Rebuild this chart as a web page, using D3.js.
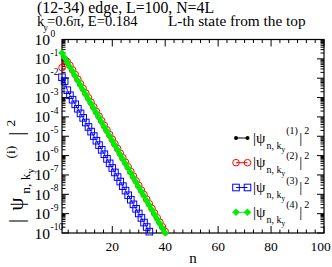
<!DOCTYPE html>
<html>
<head>
<meta charset="utf-8">
<script src="https://cdn.jsdelivr.net/npm/d3@7"></script>
<style>
  body { margin: 0; background: #fff; }
  svg text { font-family: "Liberation Serif", "Times New Roman", serif; fill: #000; }
</style>
</head>
<body>
<div id="chart"></div>
<script>
// log10 |psi|^2 for n = 1, 2, 3, ...
const psi1 = [-0.70, -0.94, -1.18, -1.42, -1.65, -1.89, -2.13, -2.37, -2.61, -2.85,
  -3.09, -3.32, -3.56, -3.80, -4.04, -4.28, -4.52, -4.75, -4.99, -5.23,
  -5.47, -5.71, -5.95, -6.19, -6.42, -6.66, -6.90, -7.14, -7.38, -7.62,
  -7.86, -8.09, -8.33, -8.57, -8.81, -9.05, -9.29, -9.52, -9.76, -10.00];
const psi2 = [-1.45, -1.05, -1.15, -1.34, -1.57, -1.81, -2.05, -2.29, -2.53, -2.77,
  -3.01, -3.24, -3.48, -3.72, -3.96, -4.20, -4.44, -4.67, -4.91, -5.15,
  -5.39, -5.63, -5.87, -6.11, -6.34, -6.58, -6.82, -7.06, -7.30, -7.54,
  -7.78, -8.01, -8.25, -8.49, -8.73, -8.97, -9.21, -9.44, -9.68, -9.92];
const psi3 = [-1.95, -2.15, -2.62, -2.88, -3.11, -3.35, -3.58, -3.82, -4.05, -4.29,
  -4.52, -4.76, -4.99, -5.23, -5.46, -5.70, -5.93, -6.17, -6.40, -6.64,
  -6.87, -7.11, -7.34, -7.58, -7.81, -8.05, -8.28, -8.52, -8.75, -8.99,
  -9.22, -9.46, -9.69, -9.93];
const psi4 = [-0.70, -0.94, -1.18, -1.42, -1.65, -1.89, -2.13, -2.37, -2.61, -2.85,
  -3.09, -3.32, -3.56, -3.80, -4.04, -4.28, -4.52, -4.75, -4.99, -5.23,
  -5.47, -5.71, -5.95, -6.19, -6.42, -6.66, -6.90, -7.14, -7.38, -7.62,
  -7.86, -8.09, -8.33, -8.57, -8.81, -9.05, -9.29, -9.52, -9.76, -10.00];
const seriesLabels = ['1', '2', '3', '4'];
const xMajorTicks = [20, 40, 60, 80, 100];
const yExponents = [0, -1, -2, -3, -4, -5, -6, -7, -8, -9, -10];

const width = 332, height = 267;
const plot = { left: 62, right: 324, top: 39.5, bottom: 233 };

const svg = d3.select('#chart').append('svg').attr('width', width).attr('height', height);

const x = d3.scaleLinear().domain([1, 100]).range([plot.left, plot.right]);
const y = d3.scaleLog().domain([1e-10, 1]).range([plot.bottom, plot.top]);

// ticks point inward and are mirrored on all four sides
const xMinor = d3.range(0, 100.001, 20 / 6).filter((v) => v > 1 && !xMajorTicks.some((m) => Math.abs(m - v) < 0.01));
const yMinor = [];
yExponents.slice(1).forEach((e) => { for (let k = 2; k <= 9; k++) yMinor.push(k * Math.pow(10, e)); });
const yMajor = yExponents.map((e) => Math.pow(10, e));

const tickLayer = svg.append('g').attr('stroke', '#000').attr('stroke-width', 1);
const tick = (x1, y1, x2, y2) => tickLayer.append('line').attr('x1', x1).attr('y1', y1).attr('x2', x2).attr('y2', y2);
xMajorTicks.forEach((v) => { tick(x(v), plot.bottom, x(v), plot.bottom - 7); tick(x(v), plot.top, x(v), plot.top + 7); });
xMinor.forEach((v) => { tick(x(v), plot.bottom, x(v), plot.bottom - 3.5); tick(x(v), plot.top, x(v), plot.top + 3.5); });
yMajor.forEach((v) => { tick(plot.left, y(v), plot.left + 7, y(v)); tick(plot.right, y(v), plot.right - 7, y(v)); });
yMinor.forEach((v) => { tick(plot.left, y(v), plot.left + 3.5, y(v)); tick(plot.right, y(v), plot.right - 3.5, y(v)); });

svg.append('rect').attr('x', plot.left).attr('y', plot.top)
  .attr('width', plot.right - plot.left).attr('height', plot.bottom - plot.top)
  .attr('fill', 'none').attr('stroke', '#000').attr('stroke-width', 1.2);

// tick labels
svg.append('g').selectAll('text').data(xMajorTicks).enter().append('text')
  .attr('x', (v) => Math.min(x(v), 320.5)).attr('y', 251).attr('text-anchor', 'middle')
  .attr('font-size', 13.5).text((v) => v);

yExponents.forEach((e) => {
  svg.append('text').attr('x', 50).attr('y', y(Math.pow(10, e)) + 5.5).attr('font-size', 15.5)
    .attr('text-anchor', 'end').text('10');
  svg.append('text').attr('x', 50.5).attr('y', y(Math.pow(10, e)) - 3).attr('font-size', 9.5).text(e);
});

// series
const styles = [
  { color: '#000', shape: 'dot' },
  { color: '#ff0000', shape: 'circle' },
  { color: '#0000ff', shape: 'square' },
  { color: '#00ee00', shape: 'diamond' }
];
const allSeries = [psi1, psi2, psi3, psi4];

function drawSymbol(g, shape, color, cx, cy) {
  if (shape === 'dot') {
    g.append('circle').attr('cx', cx).attr('cy', cy).attr('r', 2).attr('fill', color);
  } else if (shape === 'circle') {
    g.append('circle').attr('cx', cx).attr('cy', cy).attr('r', 3.3).attr('fill', 'none').attr('stroke', color).attr('stroke-width', 1);
  } else if (shape === 'square') {
    g.append('rect').attr('x', cx - 3.3).attr('y', cy - 3.3).attr('width', 6.6).attr('height', 6.6)
      .attr('fill', 'none').attr('stroke', color).attr('stroke-width', 1);
  } else {
    g.append('path').attr('d', 'M' + cx + ',' + (cy - 3.8) + 'L' + (cx + 3.8) + ',' + cy + 'L' + cx + ',' + (cy + 3.8) + 'L' + (cx - 3.8) + ',' + cy + 'Z')
      .attr('fill', color);
  }
}

const line = d3.line().x((d, i) => x(i + 1)).y((d) => y(Math.pow(10, d)));
allSeries.forEach((values, s) => {
  const g = svg.append('g');
  g.append('path').datum(values).attr('d', line).attr('fill', 'none')
    .attr('stroke', styles[s].color).attr('stroke-width', 1);
  values.forEach((d, i) => drawSymbol(g, styles[s].shape, styles[s].color, x(i + 1), y(Math.pow(10, d))));
});

// |psi_{n,k_y}^{(i)}|^2 rich label
function psiLabel(t, idx, o) {
  t.append('tspan').attr('font-size', o.main).text('|');
  t.append('tspan').attr('font-size', o.main).attr('dx', o.gap[0]).text('\u03c8');
  t.append('tspan').attr('font-size', o.sub).attr('dx', o.gap[1]).attr('dy', o.subDy).text('n, k');
  t.append('tspan').attr('font-size', o.subsub).attr('dy', o.subsubDy).text('y');
  t.append('tspan').attr('font-size', o.sub).attr('dx', o.gap[2]).attr('dy', -(o.subDy + o.subsubDy) - o.supRaise).text('(' + idx + ')');
  t.append('tspan').attr('font-size', o.main).attr('dx', o.gap[3]).attr('dy', o.supRaise).text('|');
  t.append('tspan').attr('font-size', o.sub).attr('dx', o.gap[4]).attr('dy', -o.supRaise).text('2');
}

// legend
const legendRows = [138, 162.7, 187.5, 212.3];
const legendText = { main: 15, sub: 10, subsub: 7.5, subDy: 6, subsubDy: 3, supRaise: 8.5, gap: [0, 1, 1, 1.5, 2] };
seriesLabels.forEach((lab, s) => {
  const cy = legendRows[s];
  const g = svg.append('g');
  g.append('line').attr('x1', 236).attr('x2', 247.5).attr('y1', cy).attr('y2', cy)
    .attr('stroke', styles[s].color).attr('stroke-width', 1);
  drawSymbol(g, styles[s].shape, styles[s].color, 236, cy);
  drawSymbol(g, styles[s].shape, styles[s].color, 247.5, cy);
  psiLabel(g.append('text').attr('x', 253).attr('y', cy + 4.5), lab, legendText);
});

// axis titles
svg.append('text').attr('x', 193).attr('y', 263).attr('text-anchor', 'middle').attr('font-size', 15).text('n');
psiLabel(svg.append('text').attr('transform', 'translate(23,223) rotate(-90)'), 'i',
  { main: 21, sub: 13.5, subsub: 10, subDy: 7, subsubDy: 3.5, supRaise: 8.5, gap: [8, 4, 10, 10, 5] });

// header
svg.append('text').attr('x', 37).attr('y', 13).attr('font-size', 15.8).text('(12-34) edge, L=100, N=4L');
const h2 = svg.append('text').attr('x', 37).attr('y', 26).attr('font-size', 14.5);
h2.append('tspan').text('k');
h2.append('tspan').attr('font-size', 9.5).attr('dy', 5).attr('dx', -1).text('y');
h2.append('tspan').attr('dy', -5).attr('dx', -1).text('=0.6\u03c0, E=0.184');
svg.append('text').attr('x', 168).attr('y', 26).attr('font-size', 15.3).text('L-th state from the top');
</script>
</body>
</html>
